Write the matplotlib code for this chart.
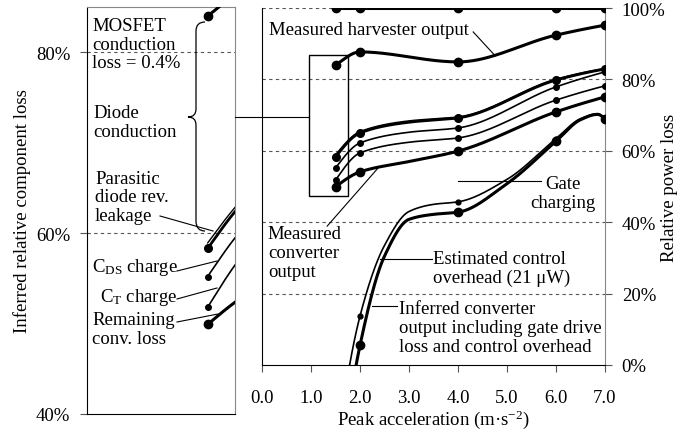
import numpy as np
import matplotlib
matplotlib.use("Agg")
import matplotlib.pyplot as plt
from matplotlib.lines import Line2D
from matplotlib.path import Path
from matplotlib.patches import PathPatch, Rectangle

plt.rcParams['font.family'] = ['Liberation Serif', 'DejaVu Serif']
plt.rcParams['mathtext.fontset'] = 'custom'
plt.rcParams['mathtext.rm'] = 'Liberation Serif'
plt.rcParams['mathtext.it'] = 'Liberation Serif'
plt.rcParams['font.size'] = 13.5

# values (relative power loss, %)
# measured points carry a dot; the others only shape the curve
accel_dots = [1.5, 2.0, 4.0, 6.0, 7.0]

accel = [1.5, 2.0, 4.0, 6.0, 7.0]
full_scale = [100, 100, 100, 100, 100]
harvester = [84.0, 87.7, 84.9, 92.4, 95.2]

accel_conv = [1.5, 2.0, 3.0, 4.0, 6.0, 7.0]
conv_top = [58.3, 65.0, 68.0, 69.2, 79.8, 82.9]
parasitic = [58.9, 65.4, 68.4, 69.5, 80.1, 83.1]
cds_curve = [55.2, 62.2, 65.2, 66.4, 77.9, 82.1]
ct_curve = [51.8, 59.4, 62.4, 63.6, 74.2, 78.2]
measured_conv = [49.9, 54.1, 57.0, 59.9, 70.9, 75.1]

accel_gate = [1.5, 2.0, 2.5, 3.0, 3.5, 4.0, 5.0, 6.0, 6.5, 6.85, 7.0]
control_est = [-25, 13.7, 33.5, 43.0, 45.0, 45.7, 52.0, 63.4, 69.0, 70.4, 69.0]
inferred_conv = [-40, 5.5, 30.5, 40.8, 42.2, 42.8, 50.8, 62.7, 68.7, 70.2, 68.9]

x_ticks = [0, 1, 2, 3, 4, 5, 6, 7]
y_ticks = [0, 20, 40, 60, 80, 100]
left_ticks = [40, 60, 80]

W, H = 698, 435


def px(x, y):
    return x / W, 1 - y / H


def end_slope(h0, h1, s0, s1):
    m = ((2 * h0 + h1) * s0 - h0 * s1) / (h0 + h1)
    if np.sign(m) != np.sign(s0):
        return 0.0
    if np.sign(s0) != np.sign(s1) and abs(m) > 3 * abs(s0):
        return 3 * s0
    return m


def smooth(x, y, n=40):
    # shape preserving cubic (pchip) through the points
    x = np.asarray(x, float)
    y = np.asarray(y, float)
    h = np.diff(x)
    s = np.diff(y) / h
    m = np.zeros_like(y)
    for k in range(1, len(x) - 1):
        if s[k - 1] * s[k] > 0:
            w1 = 2 * h[k] + h[k - 1]
            w2 = h[k] + 2 * h[k - 1]
            m[k] = (w1 + w2) / (w1 / s[k - 1] + w2 / s[k])
    m[0] = end_slope(h[0], h[1], s[0], s[1])
    m[-1] = end_slope(h[-1], h[-2], s[-1], s[-2])
    t = np.linspace(0, 1, n)
    h00 = 2 * t**3 - 3 * t**2 + 1
    h10 = t**3 - 2 * t**2 + t
    h01 = -2 * t**3 + 3 * t**2
    h11 = t**3 - t**2
    xs, ys = [], []
    for i in range(len(x) - 1):
        xs.append(x[i] + h[i] * t)
        ys.append(h00 * y[i] + h10 * h[i] * m[i] + h01 * y[i + 1]
                  + h11 * h[i] * m[i + 1])
    return np.concatenate(xs), np.concatenate(ys)


series = [
    (accel, full_scale, 2.2, 6),
    (accel, harvester, 2.2, 6),
    (accel_conv, parasitic, 1.0, 0),
    (accel_conv, conv_top, 2.0, 5.5),
    (accel_conv, cds_curve, 1.2, 4),
    (accel_conv, ct_curve, 1.2, 4),
    (accel_conv, measured_conv, 2.2, 6),
    (accel_gate, control_est, 1.2, 3.5),
    (accel_gate, inferred_conv, 2.2, 6),
]

fig = plt.figure(figsize=(6.98, 4.35), dpi=100)
ax = fig.add_axes([262 / W, 69 / H, 343 / W, 357 / H])
axl = fig.add_axes([87 / W, 20 / H, 148 / W, 407 / H])

grid_kw = dict(color='#555555', lw=0.8, ls=(0, (3, 3)), zorder=1)

for a in (ax, axl):
    for xs, ys, lw, ms in series:
        sx, sy = smooth(xs, ys)
        a.plot(sx, sy, color='black', lw=lw, solid_capstyle='round', zorder=3)
        if ms:
            dots = np.isin(xs, accel_dots)
            a.plot(np.asarray(xs)[dots], np.asarray(ys)[dots], 'o',
                   color='black', ms=ms, zorder=4)

# main panel
for v in y_ticks[1:]:
    ax.axhline(v, **grid_kw)
ax.set_xlim(0, 7)
ax.set_ylim(0, 100)
ax.set_xticks(x_ticks)
ax.set_xticklabels([f'{v:.1f}' for v in x_ticks])
ax.set_yticks(y_ticks)
ax.set_yticklabels([f'{v}%' for v in y_ticks])
ax.yaxis.tick_right()
ax.tick_params(axis='x', direction='out', length=5, pad=12, color='#555555')
ax.tick_params(axis='y', direction='out', length=5, pad=7, color='#555555')
ax.spines['top'].set_visible(False)
ax.spines['right'].set_color('#888888')
fig.text(*px(433, 420), 'Peak acceleration (m·s$^{\\mathregular{-2}}$)',
         ha='center', va='center')
fig.text(*px(669, 188), 'Relative power loss', rotation=90,
         ha='center', va='center')

ax.add_patch(Rectangle((0.96, 47.3), 0.795, 39.5, fill=False, lw=1.0,
                       ec='black', zorder=5, clip_on=False))

ax.text(0.14, 94.1, 'Measured harvester output', va='center')
ax.plot([4.31, 4.76], [93.3, 86.6], color='black', lw=0.8)
ax.text(0.12, 31.5, 'Measured\nconverter\noutput', va='center', linespacing=1.15)
ax.plot([1.33, 2.37], [38.9, 55.2], color='black', lw=0.8)
ax.text(6.14, 48.3, 'Gate\ncharging', ha='center', va='center', linespacing=1.15)
ax.plot([4.0, 5.69], [51.6, 51.6], color='black', lw=0.8)
ax.text(3.49, 27.2, 'Estimated control\noverhead (21 μW)', va='center',
        linespacing=1.15)
ax.plot([2.41, 3.47], [29.7, 29.7], color='black', lw=0.8)
ax.text(2.80, 10.5, 'Inferred converter\noutput including gate drive\n'
        'loss and control overhead', va='center', linespacing=1.15)
ax.plot([2.24, 2.76], [16.5, 16.5], color='black', lw=0.8)

# zoomed panel
for v in left_ticks[1:]:
    axl.axhline(v, **grid_kw)
axl.set_xlim(0.4, 1.75)
axl.set_ylim(40, 85)
axl.set_xticks([])
axl.set_yticks(left_ticks)
axl.set_yticklabels([f'{v}%' for v in left_ticks])
axl.tick_params(axis='y', direction='out', length=5, pad=7, color='#555555')
axl.spines['top'].set_color('#888888')
axl.spines['right'].set_color('#888888')
fig.text(*px(22.5, 211), 'Inferred relative component loss', rotation=90,
         ha='center', va='center')

labels = [
    ('MOSFET\nconduction\nloss = 0.4%', 92, 45),
    ('Diode\nconduction', 93, 123),
    ('Parasitic\ndiode rev.\nleakage', 95, 198),
    ('C$_{\\mathregular{DS}}$ charge', 92, 268),
    ('C$_{\\mathregular{T}}$ charge', 100, 298),
    ('Remaining\nconv. loss', 92, 330),
]
for txt, x, y in labels:
    fig.text(*px(x, y), txt, va='center', linespacing=1.15)

pointers = [
    ((160, 217), (213, 232)),
    ((177, 272), (217, 262)),
    ((177, 300), (217, 289)),
    ((177, 323), (218, 315)),
    ((235, 118), (309, 118)),
]
for (x0, y0), (x1, y1) in pointers:
    a0, b0 = px(x0, y0)
    a1, b1 = px(x1, y1)
    fig.add_artist(Line2D([a0, a1], [b0, b1], color='black', lw=0.8,
                          transform=fig.transFigure))

# curly brace
verts = [(205, 23), (196, 23), (196, 32), (196, 110), (196, 118), (188, 118),
         (196, 118), (196, 126), (196, 222), (196, 232), (205, 232)]
codes = [Path.MOVETO, Path.CURVE3, Path.CURVE3, Path.LINETO, Path.CURVE3,
         Path.CURVE3, Path.CURVE3, Path.CURVE3, Path.LINETO, Path.CURVE3,
         Path.CURVE3]
brace = Path([px(x, y) for x, y in verts], codes)
fig.add_artist(PathPatch(brace, fill=False, lw=0.9, ec='black',
                         transform=fig.transFigure))

fig.savefig('out.png', dpi=100)
